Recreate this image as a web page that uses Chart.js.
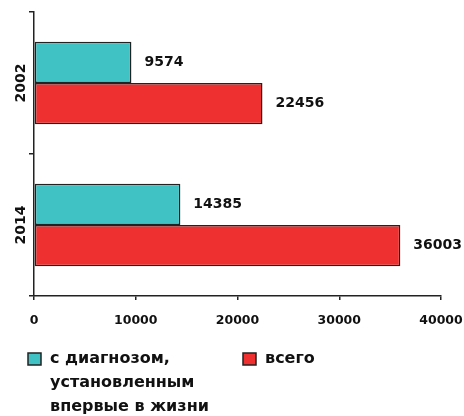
<!DOCTYPE html>
<html>
<head>
<meta charset="utf-8">
<script src="https://cdn.jsdelivr.net/npm/chart.js@4"></script>
<style>
  html, body { margin: 0; padding: 0; background: #fff; }
  #wrap { width: 464px; height: 416px; }
</style>
</head>
<body>
<div id="wrap"><canvas id="chart" width="464" height="416"></canvas></div>
<script>
const years = ["2002", "2014"];
const firstTime = [9574, 14385];
const total = [22456, 36003];
const seriesNames = [["с диагнозом,", "установленным", "впервые в жизни"], ["всего"]];
const xTicks = [0, 10000, 20000, 30000, 40000];

const ctx = document.querySelector("#chart");
const axisColor = "#222";
const font = "DejaVu Sans";

// value labels to the right of every bar
const valueLabels = {
    id: "valueLabels",
    afterDatasetsDraw(chart) {
        const c = chart.ctx;
        c.save();
        c.font = "bold 14px '" + font + "'";
        c.fillStyle = "#111";
        c.textBaseline = "middle";
        c.textAlign = "left";
        chart.data.datasets.forEach((ds, i) => {
            chart.getDatasetMeta(i).data.forEach((bar, j) => {
                c.fillText(String(ds.data[j]), bar.x + 13, bar.y);
            });
        });
        c.restore();
    }
};

// rotated category labels
const yearLabels = {
    id: "yearLabels",
    afterDraw(chart) {
        const scale = chart.scales.y;
        const c = chart.ctx;
        c.save();
        c.font = "bold 14px '" + font + "'";
        c.fillStyle = "#111";
        c.textAlign = "center";
        c.textBaseline = "middle";
        chart.data.labels.forEach((lab, i) => {
            const y = scale.getPixelForValue(i);
            c.save();
            c.translate(21, y);
            c.rotate(-Math.PI / 2);
            c.fillText(lab, 0, 0);
            c.restore();
        });
        c.restore();
    }
};

// legend with wrapped text under the chart
const bottomLegend = {
    id: "bottomLegend",
    afterDraw(chart) {
        const c = chart.ctx;
        const starts = [28, 243];
        c.save();
        c.font = "bold 16px '" + font + "'";
        c.textBaseline = "middle";
        c.textAlign = "left";
        chart.data.datasets.forEach((ds, i) => {
            const x = starts[i];
            c.fillStyle = ds.backgroundColor;
            c.fillRect(x, 353, 13, 12);
            c.strokeStyle = axisColor;
            c.lineWidth = 1.5;
            c.strokeRect(x, 353, 13, 12);
            c.fillStyle = "#111";
            seriesNames[i].forEach((line, k) => {
                c.fillText(line, x + 22, 359 + k * 24);
            });
        });
        c.restore();
    }
};

new Chart(ctx, {
    type: "bar",
    data: {
        labels: years,
        datasets: [
            {
                label: seriesNames[0].join(" "),
                data: firstTime,
                backgroundColor: "#40C2C4",
                borderColor: axisColor,
                borderWidth: 1.5,
                borderSkipped: false,
                categoryPercentage: 0.58,
                barPercentage: 1,
            },
            {
                label: seriesNames[1].join(" "),
                data: total,
                backgroundColor: "#EE3130",
                borderColor: axisColor,
                borderWidth: 1.5,
                borderSkipped: false,
                categoryPercentage: 0.58,
                barPercentage: 1,
            },
        ],
    },
    options: {
        indexAxis: "y",
        responsive: false,
        animation: false,
        layout: { padding: { top: 12, right: 23, left: 0, bottom: 0 } },
        plugins: {
            legend: { display: false },
            tooltip: { enabled: false },
        },
        scales: {
            x: {
                min: 0,
                max: 40000,
                afterBuildTicks(scale) {
                    scale.ticks = xTicks.map(v => ({ value: v }));
                },
                afterFit(scale) {
                    scale.height = 120;
                    scale.paddingLeft = 0;
                    scale.paddingRight = 0;
                },
                grid: { drawOnChartArea: false, color: axisColor, lineWidth: 1.5, tickLength: 4 },
                border: { color: axisColor, width: 1.5 },
                ticks: {
                    padding: 13,
                    color: "#111",
                    font: { family: font, size: 12.5, weight: "bold" },
                    maxRotation: 0,
                    callback: v => String(v),
                },
            },
            y: {
                afterFit(scale) { scale.width = 34; },
                grid: { drawOnChartArea: false, color: axisColor, lineWidth: 1.5, tickLength: 5 },
                border: { color: axisColor, width: 1.5 },
                ticks: { display: false },
            },
        },
    },
    plugins: [valueLabels, yearLabels, bottomLegend],
});
</script>
</body>
</html>
